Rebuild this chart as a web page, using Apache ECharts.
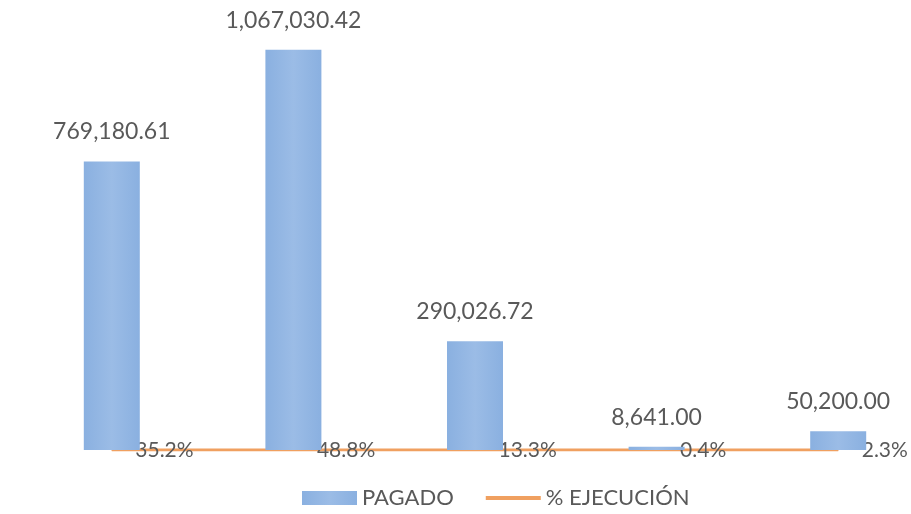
<!DOCTYPE html>
<html>
<head>
<meta charset="utf-8">
<script src="https://cdn.jsdelivr.net/npm/echarts@6/dist/echarts.min.js"></script>
<style>
  html, body { margin: 0; padding: 0; background: #fff; }
  #chart { width: 911px; height: 514px; }
</style>
</head>
<body>
<div id="chart"></div>
<script>
var categories = ['A', 'B', 'C', 'D', 'E'];
var pagado = [769180.61, 1067030.42, 290026.72, 8641.00, 50200.00];
var ejecucion = [35.2, 48.8, 13.3, 0.4, 2.3];

var myChart = echarts.init(document.getElementById('chart'));
var option = {
    animation: false,
    textStyle: { fontFamily: 'Lato, "Open Sans", sans-serif' },
    grid: {
        left: 21, top: 0, width: 908, bottom: 64,
        containLabel: false,
        outerBoundsMode: 'none'
    },
    legend: {
        bottom: 0,
        left: 297,
        itemWidth: 55,
        itemHeight: 14,
        itemGap: 30,
        textStyle: { color: '#595959', fontSize: 22 },
        data: [
            { name: 'PAGADO', icon: 'rect' },
            { name: '% EJECUCIÓN', itemStyle: { opacity: 0 }, lineStyle: { width: 4 } }
        ]
    },
    xAxis: {
        type: 'category',
        data: categories,
        axisLine: { show: false },
        axisTick: { show: false },
        axisLabel: { show: false }
    },
    yAxis: {
        type: 'value',
        min: 0,
        max: 1200000,
        show: false,
        splitLine: { show: false }
    },
    series: [{
            name: 'PAGADO',
            type: 'bar',
            barWidth: 56,
            data: pagado,
            itemStyle: {
                color: new echarts.graphic.LinearGradient(0, 0, 1, 0, [
                    { offset: 0, color: '#8AB0E0' },
                    { offset: 0.5, color: '#9BBCE6' },
                    { offset: 1, color: '#8AB0E0' }
                ])
            },
            label: {
                show: true,
                position: 'top',
                distance: 18,
                color: '#595959',
                fontSize: 23,
                formatter: function (p) {
                    return p.value.toLocaleString('en-US', {
                        minimumFractionDigits: 2,
                        maximumFractionDigits: 2
                    });
                }
            }
        },
        {
            name: '% EJECUCIÓN',
            type: 'line',
            data: ejecucion.map(function (v) { return v / 100; }),
            symbol: 'circle',
            symbolSize: 1,
            showSymbol: true,
            z: 1,
            lineStyle: { color: '#F0A060', width: 3 },
            itemStyle: { color: '#F0A060' },
            label: {
                show: true,
                position: 'right',
                distance: 23,
                color: '#595959',
                fontSize: 21,
                formatter: function (p) {
                    return ejecucion[p.dataIndex].toFixed(1) + '%';
                }
            }
        }
    ]
};
myChart.setOption(option);
</script>
</body>
</html>
